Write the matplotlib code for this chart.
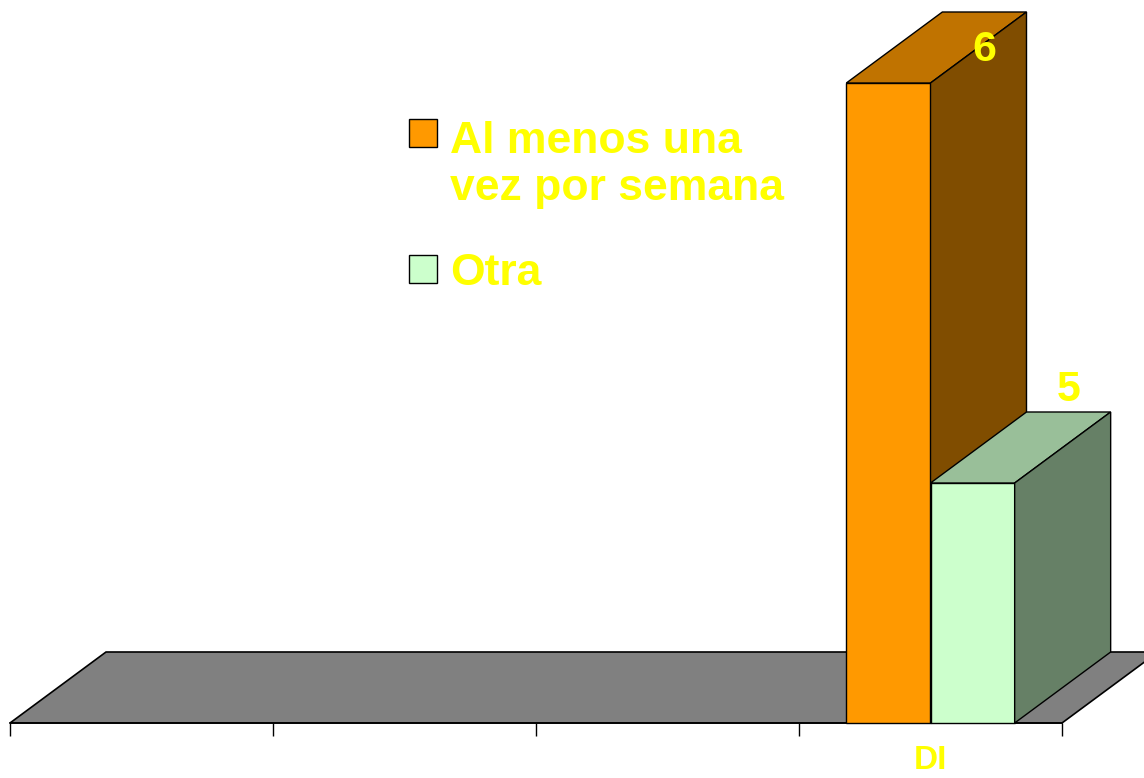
import numpy as np
import matplotlib.pyplot as plt
from matplotlib.patches import Polygon, Rectangle

categories = ['', '', '', 'DI']
series_names = ['Al menos una\nvez por semana', 'Otra']
semana = [np.nan, np.nan, np.nan, 6]
otra = [np.nan, np.nan, np.nan, 5]

# face colours: front, top, side
orange = ('#FF9900', '#C07300', '#804D00')
green = ('#CCFFCC', '#99BF99', '#668066')
yellow = '#FFFF00'

W, H = 1144, 778
ymin = 4.4
px_per_unit = 400.0
slot_px = 263.0
depth_x = 96 / slot_px
depth_y = 71 / px_per_unit
bar_w = 0.32


def draw_bar(ax, x0, v, cols):
    w = bar_w
    front = [(x0, ymin), (x0 + w, ymin), (x0 + w, v), (x0, v)]
    top = [(x0, v), (x0 + w, v), (x0 + w + depth_x, v + depth_y), (x0 + depth_x, v + depth_y)]
    side = [(x0 + w, ymin), (x0 + w + depth_x, ymin + depth_y),
            (x0 + w + depth_x, v + depth_y), (x0 + w, v)]
    for pts, c in zip([front, top, side], cols):
        ax.add_patch(Polygon(pts, closed=True, facecolor=c, edgecolor='black',
                             linewidth=1.0, clip_on=False, zorder=3))


def main():
    fig = plt.figure(figsize=(W / 100, H / 100), dpi=100)
    ax = fig.add_axes([10 / W, 55 / H, 1052 / W, 723 / H])
    ax.set_xlim(0, len(categories))
    ax.set_ylim(ymin, ymin + 723 / px_per_unit)

    # floor
    n = len(categories)
    floor = [(0, ymin), (n, ymin), (n + depth_x, ymin + depth_y), (depth_x, ymin + depth_y)]
    ax.add_patch(Polygon(floor, closed=True, facecolor='#808080', edgecolor='black',
                         linewidth=1.2, clip_on=False, zorder=1))

    font = ['Liberation Sans', 'DejaVu Sans']
    for i in range(n):
        for k, (vals, cols) in enumerate([(semana, orange), (otra, green)]):
            v = vals[i]
            if np.isnan(v):
                continue
            x0 = i + 0.5 - bar_w + k * bar_w
            draw_bar(ax, x0, v, cols)
            ly = min(v + depth_y + 0.005, 6.033)
            ax.text(x0 + bar_w / 2 + depth_x, ly, f'{v:g}', ha='center', va='bottom',
                    fontsize=31, fontweight='bold', color=yellow, family=font, zorder=5)

    for s in ['top', 'right', 'left']:
        ax.spines[s].set_visible(False)
    ax.spines['bottom'].set_linewidth(1.2)
    ax.spines['bottom'].set_zorder(2)
    ax.set_yticks([])
    ax.set_xticks(np.arange(n + 1))
    ax.set_xticklabels([])
    ax.tick_params(axis='x', which='major', direction='out', length=9, width=1)
    ax.set_xticks(np.arange(n) + 0.5, minor=True)
    ax.set_xticklabels(categories, minor=True, fontsize=24, fontweight='bold',
                       color=yellow, family=font)
    ax.tick_params(axis='x', which='minor', length=0, pad=16)
    ax.patch.set_visible(False)

    # legend
    def fx(p):
        return p / W

    def fy(p):
        return 1 - p / H

    legend_rows = [(119, 200, orange[0]), (255, 285, green[0])]
    for (sq_top, base, col), name in zip(legend_rows, series_names):
        fig.patches.append(Rectangle((fx(409), fy(sq_top + 28)), 28 / W, 28 / H,
                                     transform=fig.transFigure, facecolor=col,
                                     edgecolor='black', linewidth=1.0))
        fig.text(fx(450), fy(base), name, ha='left', va='baseline', fontsize=32,
                 fontweight='bold', color=yellow, family=font, linespacing=1.2)

    fig.savefig('out.png', dpi=100)


if __name__ == '__main__':
    main()
